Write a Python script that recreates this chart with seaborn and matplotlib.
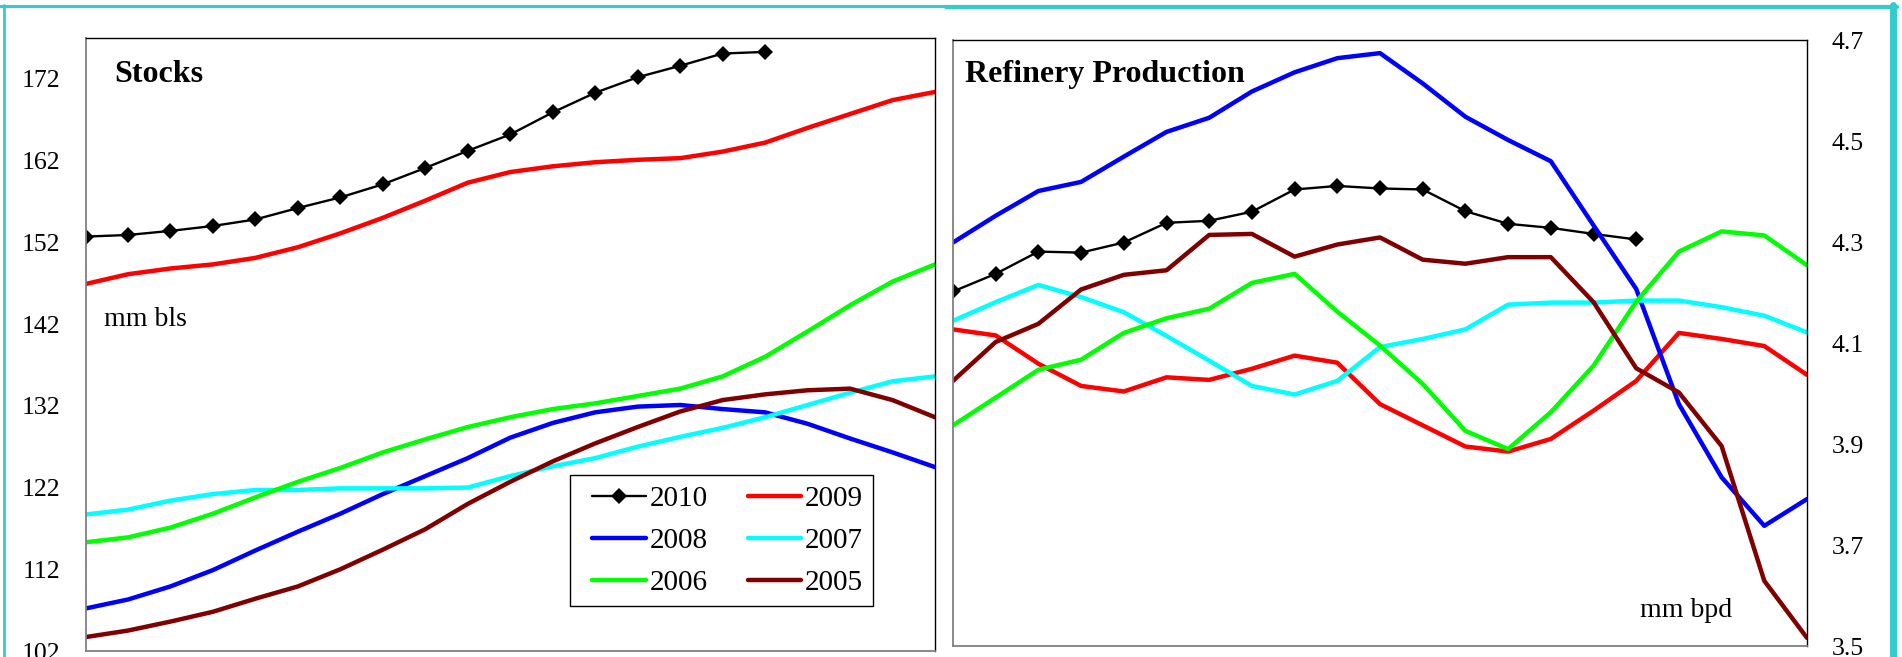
import numpy as np
import pandas as pd
import matplotlib
matplotlib.use("Agg")
import matplotlib.pyplot as plt
from matplotlib.lines import Line2D
from matplotlib.legend_handler import HandlerLine2D
import seaborn as sns

sns.set_theme(style="white")
plt.rcParams['font.family'] = ['Liberation Serif', 'DejaVu Serif']
plt.rcParams['text.color'] = 'black'
plt.rcParams['ytick.color'] = 'black'
plt.rcParams['xtick.color'] = 'black'

# weekly points, 21 per season
weeks = list(range(21))
years = ['2010', '2009', '2008', '2007', '2006', '2005']
colors = ['#000000', '#FF0000', '#0000FF', '#00FFFF', '#00FF00', '#800000']

# stocks, mm bls
stocks_2010 = [152.7, 152.9, 153.4, 154.0, 154.8, 156.2, 157.5, 159.1, 161.1, 163.2,
               165.2, 167.9, 170.3, 172.2, 173.6, 175.1, 175.3]
stocks_2009 = [146.9, 148.1, 148.8, 149.3, 150.1, 151.4, 153.1, 155.0, 157.1, 159.3,
               160.6, 161.3, 161.8, 162.1, 162.3, 163.1, 164.2, 166.0, 167.7, 169.4, 170.4]
stocks_2008 = [107.2, 108.3, 109.9, 111.9, 114.3, 116.6, 118.8, 121.2, 123.4, 125.6,
               128.1, 129.9, 131.2, 131.9, 132.1, 131.6, 131.2, 129.8, 128.0, 126.3, 124.5]
stocks_2007 = [118.7, 119.3, 120.4, 121.2, 121.7, 121.7, 121.9, 121.9, 121.9, 122.0,
               123.4, 124.6, 125.6, 127.0, 128.2, 129.3, 130.6, 132.1, 133.6, 135.0, 135.6]
stocks_2006 = [115.3, 115.9, 117.1, 118.8, 120.8, 122.7, 124.4, 126.3, 127.9, 129.4,
               130.6, 131.6, 132.3, 133.2, 134.1, 135.6, 138.0, 141.1, 144.3, 147.2, 149.3]
stocks_2005 = [103.7, 104.5, 105.6, 106.8, 108.4, 109.9, 112.0, 114.4, 116.9, 120.0,
               122.7, 125.2, 127.4, 129.4, 131.3, 132.7, 133.4, 133.9, 134.1, 132.7, 130.6]

# refinery production, mm bpd
refin_2010 = [4.202, 4.237, 4.281, 4.279, 4.299, 4.338, 4.342, 4.360, 4.404, 4.411,
              4.406, 4.404, 4.361, 4.336, 4.328, 4.316, 4.305]
refin_2009 = [4.127, 4.115, 4.059, 4.015, 4.004, 4.032, 4.027, 4.049, 4.075, 4.061,
              3.979, 3.937, 3.895, 3.885, 3.910, 3.966, 4.025, 4.120, 4.108, 4.094, 4.037]
refin_2008 = [4.299, 4.352, 4.401, 4.419, 4.469, 4.518, 4.546, 4.598, 4.636, 4.664,
              4.674, 4.614, 4.548, 4.502, 4.460, 4.333, 4.207, 3.979, 3.834, 3.738, 3.791]
refin_2007 = [4.144, 4.181, 4.215, 4.191, 4.161, 4.114, 4.065, 4.015, 3.998, 4.025,
              4.092, 4.108, 4.127, 4.176, 4.180, 4.180, 4.184, 4.184, 4.171, 4.154, 4.121]
refin_2006 = [3.937, 3.992, 4.047, 4.067, 4.120, 4.149, 4.168, 4.219, 4.237, 4.162,
              4.095, 4.019, 3.926, 3.890, 3.963, 4.055, 4.182, 4.281, 4.321, 4.313, 4.254]
refin_2005 = [4.025, 4.102, 4.138, 4.206, 4.235, 4.244, 4.314, 4.316, 4.271, 4.295,
              4.309, 4.265, 4.257, 4.270, 4.270, 4.181, 4.050, 4.002, 3.896, 3.629, 3.516]

stocks = [stocks_2010, stocks_2009, stocks_2008, stocks_2007, stocks_2006, stocks_2005]
refin = [refin_2010, refin_2009, refin_2008, refin_2007, refin_2006, refin_2005]

W, H = 1902, 657
fig = plt.figure(figsize=(W / 100, H / 100), dpi=100)
ax1 = fig.add_axes([85.5 / W, 6 / H, 849.5 / W, 613 / H])
ax2 = fig.add_axes([953 / W, 11 / H, 854 / W, 606 / H])


def draw(ax, series):
    for yr, col, vals in zip(years, colors, series):
        if yr == '2010':
            sns.lineplot(x=weeks[:len(vals)], y=vals, ax=ax, color=col, linewidth=1.7,
                         marker='D', markersize=8.5, markeredgewidth=0, label=yr)
        else:
            sns.lineplot(x=weeks[:len(vals)], y=vals, ax=ax, color=col, linewidth=3.2,
                         label=yr)
    ax.set_xlim(0, 20)
    ax.set_xticks([])
    ax.set_xlabel('')
    ax.set_ylabel('')
    for side in ['top', 'right']:
        ax.spines[side].set_color('black')
        ax.spines[side].set_linewidth(1)
    for side in ['left', 'bottom']:
        ax.spines[side].set_color('#808080')
        ax.spines[side].set_linewidth(1.3)
    ax.tick_params(axis='y', length=0, pad=18, labelsize=18.5, labelcolor='black')


draw(ax1, stocks)
ax1.set_ylim(102, 177)
ax1.set_yticks(np.arange(102, 173, 10))
ax1.text(0.0335, 0.9287, 'Stocks', transform=ax1.transAxes, fontsize=23,
         fontweight='bold', va='baseline', ha='left')
ax1.text(0.0218, 0.530, 'mm bls', transform=ax1.transAxes, fontsize=20,
         va='baseline', ha='left')

h, l = ax1.get_legend_handles_labels()
order = [0, 2, 4, 1, 3, 5]
leg = ax1.legend([h[i] for i in order], [l[i] for i in order], ncol=2,
                 loc='lower left', bbox_to_anchor=(0.5703, 0.0734), borderaxespad=0,
                 fontsize=21, handlelength=2.24, handletextpad=0.14, columnspacing=0.95,
                 labelspacing=0.53, frameon=True, fancybox=False, framealpha=1,
                 edgecolor='black', borderpad=0.35,
                 handler_map={Line2D: HandlerLine2D(xpad=0.42)})
leg.get_frame().set_linewidth(1)

draw(ax2, refin)
ax2.get_legend().remove()
ax2.set_ylim(3.5, 4.7)
ax2.set_yticks(np.arange(3.5, 4.71, 0.2))
ax2.set_yticklabels([f'{v:.1f}' for v in np.arange(3.5, 4.71, 0.2)])
ax2.yaxis.tick_right()
ax2.tick_params(axis='y', length=0, pad=18, labelsize=18.5, labelcolor='black')
ax2.text(0.014, 0.9312, 'Refinery Production', transform=ax2.transAxes, fontsize=23,
         fontweight='bold', va='baseline', ha='left')
ax2.text(0.8044, 0.0484, 'mm bpd', transform=ax2.transAxes, fontsize=20,
         va='baseline', ha='left')

# cyan chart borders
cy = '#33CCCC'
fig.add_artist(Line2D([0, 946 / W], [1 - 6 / H, 1 - 6 / H], transform=fig.transFigure,
                      color=cy, linewidth=2.2))
fig.add_artist(Line2D([4 / W, 4 / W], [0, 1 - 5 / H], transform=fig.transFigure,
                      color=cy, linewidth=2.0))
fig.add_artist(Line2D([946 / W, 1897 / W], [1 - 7 / H, 1 - 7 / H], transform=fig.transFigure,
                      color=cy, linewidth=3.0))
fig.add_artist(Line2D([1893 / W, 1893 / W], [0, 1 - 5 / H], transform=fig.transFigure,
                      color=cy, linewidth=5.0))

fig.savefig('out.png', dpi=100)
